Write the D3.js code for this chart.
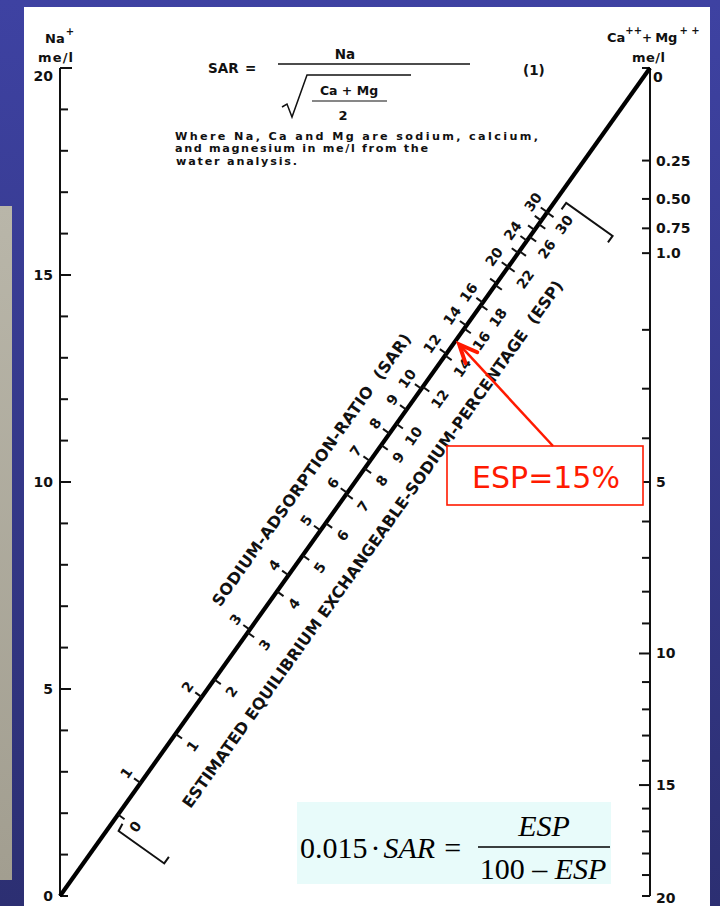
<!DOCTYPE html>
<html>
<head>
<meta charset="utf-8">
<script src="https://cdn.jsdelivr.net/npm/d3@7"></script>
<style>
  html, body { margin: 0; padding: 0; background: #34378a; }
  svg { display: block; }
</style>
</head>
<body>
<svg id="chart" width="720" height="906"></svg>
<script>
// ---- Scale values ----
// Left scale: sodium, me/l
const naTicks  = [0,1,2,3,4,5,6,7,8,9,10,11,12,13,14,15,16,17,18,19,20];
const naLabels = [0,5,10,15,20];
// Right scale: calcium + magnesium, me/l (square-root graduated)
const caMgTicks      = [0,0.25,0.5,0.75,1,2,3,4,5,6,7,8,9,10,11,12,13,14,15,16,17,18,19,20];
const caMgLabels     = [0,0.25,0.5,0.75,1,5,10,15,20];
const caMgLabelText  = ["0","0.25","0.50","0.75","1.0","5","10","15","20"];
const caMgLongTicks  = [5,10,15];
// Sodium-adsorption-ratio graduations on the diagonal
const sarLabels = [1,2,3,4,5,6,7,8,9,10,12,14,16,20,24,30];
const sarMinor  = [18,22,26,28];
// Exchangeable-sodium-percentage graduations and the SAR value each one sits at
const espLabels = [0,1,2,3,4,5,6,7,8,9,10,12,14,16,18,22,26,30];
const espMinor  = [20,24,28];
const espValues = [0,1,2,3,4,5,6,7,8,9,10,12,14,15,16,18,20,22,24,26,28,30];
const espAtSar  = [0.69,1.54,2.24,2.95,3.68,4.42,5.18,5.96,6.75,7.56,8.39,10.10,11.89,12.82,13.77,15.74,17.80,19.98,22.26,24.68,27.22,29.91];
const highlightEsp = 15;

// ---- Layout ----
const xL = 60, xR = 650, yTop = 68, yBot = 896;
const letter = "'DejaVu Sans', sans-serif";
const ink = "#111";
const red = "#ff1a00";

const na   = d3.scaleLinear().domain([0, 20]).range([yBot, yTop]);
const caMg = d3.scaleSqrt().domain([0, 20]).range([yTop, yBot]);
const espToSar = d3.scaleLinear().domain(espValues).range(espAtSar);

const svg = d3.select("#chart");
const defs = svg.append("defs");

// slide background
const bg = defs.append("linearGradient").attr("id", "bg")
  .attr("x1", 0).attr("y1", 0).attr("x2", 0).attr("y2", 1);
bg.append("stop").attr("offset", "0%").attr("stop-color", "#3e42a2");
bg.append("stop").attr("offset", "100%").attr("stop-color", "#2c2f72");
svg.append("rect").attr("width", 720).attr("height", 906).attr("fill", "url(#bg)");

const strip = defs.append("linearGradient").attr("id", "strip")
  .attr("x1", 0).attr("y1", 0).attr("x2", 0).attr("y2", 1);
strip.append("stop").attr("offset", "0%").attr("stop-color", "#b9b6a9");
strip.append("stop").attr("offset", "100%").attr("stop-color", "#a29e90");
svg.append("rect").attr("x", 0).attr("y", 206).attr("width", 12).attr("height", 674)
  .attr("fill", "url(#strip)");

// paper
svg.append("rect").attr("x", 24).attr("y", 7).attr("width", 686).attr("height", 899)
  .attr("fill", "#ffffff");

// ---- Left axis (Na) ----
const left = svg.append("g");
left.append("line").attr("x1", xL).attr("x2", xL).attr("y1", na(0)).attr("y2", na(20))
  .attr("stroke", ink).attr("stroke-width", 2);
left.selectAll("line.t").data(naTicks).join("line").attr("class", "t")
  .attr("x1", xL).attr("y1", d => na(d)).attr("y2", d => na(d))
  .attr("x2", d => xL + (d === 20 ? 12 : naLabels.includes(d) && d > 0 ? 11 : 8))
  .attr("stroke", ink).attr("stroke-width", 2);
left.selectAll("text").data(naLabels).join("text")
  .attr("x", xL - 7).attr("y", d => na(d) + (d === 20 ? 13 : 5))
  .attr("text-anchor", "end").attr("font-family", letter).attr("font-weight", "bold")
  .attr("font-size", 14).attr("fill", ink).text(d => d);

// ---- Right axis (Ca + Mg) ----
const right = svg.append("g");
right.append("line").attr("x1", xR).attr("x2", xR).attr("y1", caMg(0)).attr("y2", caMg(20))
  .attr("stroke", ink).attr("stroke-width", 2);
right.selectAll("line.t").data(caMgTicks).join("line").attr("class", "t")
  .attr("x1", xR).attr("y1", d => caMg(d)).attr("y2", d => caMg(d))
  .attr("x2", d => xR - (caMgLongTicks.includes(d) ? 11 : 8))
  .attr("stroke", ink).attr("stroke-width", 2);
right.selectAll("text").data(caMgLabels).join("text")
  .attr("x", (d, i) => xR + (i === 0 ? 3 : 6))
  .attr("y", d => caMg(d) + (d === 0 ? 14 : d === 20 ? 7 : 5))
  .attr("font-family", letter).attr("font-weight", "bold")
  .attr("font-size", 14).attr("fill", ink).text((d, i) => caMgLabelText[i]);

// ---- Axis titles ----
function lettering(x, y, size, anchor) {
  return svg.append("text").attr("x", x).attr("y", y)
    .attr("font-family", letter).attr("font-weight", "bold")
    .attr("font-size", size).attr("fill", ink).attr("text-anchor", anchor || "start");
}
const naTitle = lettering(45, 43, 13);
naTitle.append("tspan").text("Na");
naTitle.append("tspan").attr("dx", 1).attr("dy", -8).attr("font-size", 10).text("+");
lettering(38, 62, 13).attr("textLength", 35).text("me/l");

const cmTitle = lettering(607, 42, 13);
cmTitle.append("tspan").text("Ca");
cmTitle.append("tspan").attr("dy", -8).attr("font-size", 10).text("++");
cmTitle.append("tspan").attr("dy", 8).attr("font-size", 12).text("+");
cmTitle.append("tspan").attr("dx", 3).text("Mg");
cmTitle.append("tspan").attr("dx", 2).attr("dy", -8).attr("font-size", 10).text("+  +");
lettering(632, 62, 13).attr("textLength", 33).text("me/l");

// ---- Defining equation (1) ----
lettering(208, 73, 13.5).text("SAR");
lettering(245, 73, 13.5).text("=");
svg.append("line").attr("x1", 278).attr("x2", 470).attr("y1", 64).attr("y2", 64)
  .attr("stroke", ink).attr("stroke-width", 1.3);
lettering(345, 59, 13.5, "middle").text("Na");
svg.append("path").attr("d", "M282,107 L287,104 L292,117 L307,75 L411,75")
  .attr("fill", "none").attr("stroke", ink).attr("stroke-width", 1.5);
lettering(349, 95, 12.5, "middle").text("Ca + Mg");
svg.append("line").attr("x1", 312).attr("x2", 387).attr("y1", 101).attr("y2", 101)
  .attr("stroke", ink).attr("stroke-width", 1.2);
lettering(343, 120, 13, "middle").text("2");
lettering(523, 75, 13.5).text("(1)");

lettering(175, 139.5, 11.2).attr("textLength", 363).text("Where Na, Ca and Mg are sodium, calcium,");
lettering(175, 152, 11.2).attr("textLength", 253).text("and magnesium in me/l from the");
lettering(176, 164.5, 11.2).attr("textLength", 121).text("water analysis.");

// ---- Diagonal SAR / ESP scale ----
const D0 = [xL, na(0)], D1 = [xR, caMg(0)];
const ddx = D1[0] - D0[0], ddy = D1[1] - D0[1];
const len = Math.hypot(ddx, ddy);
const angle = Math.atan2(ddy, ddx) * 180 / Math.PI;
const tx = ddx / len, ty = ddy / len;   // along the diagonal
const nx = -ty, ny = tx;                // across it, towards the ESP side

// distance along the diagonal at which a Na / Ca+Mg alignment gives this SAR
function sarPos(sar) {
  if (sar <= 0) return 0;
  const naRef = 10;
  const c = 2 * Math.pow(naRef / sar, 2);
  const yL = na(naRef), yR = caMg(c);
  const s = (D0[1] - yL) / ((yR - yL) - (D1[1] - D0[1]));
  return s * len;
}
const espPos = esp => sarPos(espToSar(esp));

const diag = svg.append("g").attr("transform", `translate(${D0[0]},${D0[1]}) rotate(${angle})`);
diag.append("line").attr("x1", 0).attr("x2", len).attr("y1", 0).attr("y2", 0)
  .attr("stroke", "#000").attr("stroke-width", 4.2);

diag.selectAll("line.sar").data(sarLabels.concat(sarMinor)).join("line").attr("class", "sar")
  .attr("x1", d => sarPos(d)).attr("x2", d => sarPos(d)).attr("y1", -8).attr("y2", 0)
  .attr("stroke", ink).attr("stroke-width", 2);
diag.selectAll("text.sar").data(sarLabels).join("text").attr("class", "sar")
  .attr("x", d => sarPos(d)).attr("y", -12.5).attr("text-anchor", "middle")
  .attr("font-family", letter).attr("font-weight", "bold").attr("font-size", 14)
  .attr("fill", ink).text(d => d);

diag.selectAll("line.esp").data(espLabels.concat(espMinor)).join("line").attr("class", "esp")
  .attr("x1", d => espPos(d)).attr("x2", d => espPos(d)).attr("y1", 0).attr("y2", 8)
  .attr("stroke", ink).attr("stroke-width", 2);
diag.selectAll("text.esp").data(espLabels).join("text").attr("class", "esp")
  .attr("x", d => espPos(d)).attr("y", 26).attr("text-anchor", "middle")
  .attr("font-family", letter).attr("font-weight", "bold").attr("font-size", 14)
  .attr("fill", ink).text(d => d);

// brackets closing the ESP scale
const bLo = espPos(espLabels[0]) - 13, bHi = espPos(espLabels[espLabels.length - 1]) + 19;
diag.append("path").attr("d", `M${bLo + 8},9 L${bLo},10 L${bLo},66 L${bLo + 8},66`)
  .attr("fill", "none").attr("stroke", ink).attr("stroke-width", 2);
diag.append("path").attr("d", `M${bHi - 8},10 L${bHi},10 L${bHi},67 L${bHi - 8},67`)
  .attr("fill", "none").attr("stroke", ink).attr("stroke-width", 2);

// scale names
diag.append("text").attr("x", 493).attr("y", -37).attr("text-anchor", "middle")
  .attr("font-family", letter).attr("font-weight", "bold").attr("font-size", 16)
  .attr("fill", ink).attr("textLength", 330).attr("xml:space", "preserve")
  .text("SODIUM-ADSORPTION-RATIO  (SAR)");
diag.append("text").attr("x", 468).attr("y", 56).attr("text-anchor", "middle")
  .attr("font-family", letter).attr("font-weight", "bold").attr("font-size", 16)
  .attr("fill", ink).attr("textLength", 643).attr("xml:space", "preserve")
  .text("ESTIMATED EQUILIBRIUM EXCHANGEABLE-SODIUM-PERCENTAGE  (ESP)");

// ---- ESP = 15 % call-out ----
const box = { x: 447, y: 446, w: 196, h: 59 };
svg.append("rect").attr("x", box.x).attr("y", box.y).attr("width", box.w).attr("height", box.h)
  .attr("fill", "#fff").attr("stroke", red).attr("stroke-width", 1.6);
svg.append("text").attr("x", box.x + box.w / 2 + 1).attr("y", box.y + 42)
  .attr("text-anchor", "middle").attr("font-family", letter).attr("font-size", 30)
  .attr("fill", red).text(`ESP=${highlightEsp}%`);

const uTip = espPos(highlightEsp), vTip = 5;
const tip = [D0[0] + uTip * tx + vTip * nx, D0[1] + uTip * ty + vTip * ny];
const start = [box.x + 106, box.y];
const ax = tip[0] - start[0], ay = tip[1] - start[1], al = Math.hypot(ax, ay);
const ux = ax / al, uy = ay / al;
svg.append("line").attr("x1", start[0]).attr("y1", start[1])
  .attr("x2", tip[0] - ux * 3).attr("y2", tip[1] - uy * 3)
  .attr("stroke", red).attr("stroke-width", 2.5);
const headL = 18, headW = 8;
const arm1 = [tip[0] - ux * headL - uy * headW, tip[1] - uy * headL + ux * headW];
const arm2 = [tip[0] - ux * headL + uy * headW, tip[1] - uy * headL - ux * headW];
svg.append("path").attr("d", `M${arm1} L${tip} L${arm2}`)
  .attr("fill", "none").attr("stroke", red).attr("stroke-width", 4)
  .attr("stroke-linejoin", "miter").attr("stroke-linecap", "round");

// ---- ESP relation ----
const serif = "'Liberation Serif', 'Times New Roman', serif";
svg.append("rect").attr("x", 297).attr("y", 802).attr("width", 314).attr("height", 82)
  .attr("fill", "#e8fbfa");
const lhs = svg.append("text").attr("x", 300).attr("y", 858)
  .attr("font-family", serif).attr("font-size", 30).attr("fill", "#000");
lhs.append("tspan").text("0.015");
lhs.append("tspan").attr("dx", 3).text("·");
lhs.append("tspan").attr("dx", 3).attr("font-style", "italic").text("SAR");
lhs.append("tspan").attr("dx", 9).text("=");
svg.append("line").attr("x1", 478).attr("x2", 610).attr("y1", 847).attr("y2", 847)
  .attr("stroke", "#000").attr("stroke-width", 1.4);
svg.append("text").attr("x", 544).attr("y", 836).attr("text-anchor", "middle")
  .attr("font-family", serif).attr("font-size", 30).attr("font-style", "italic")
  .attr("fill", "#000").text("ESP");
const den = svg.append("text").attr("x", 543).attr("y", 879).attr("text-anchor", "middle")
  .attr("font-family", serif).attr("font-size", 30).attr("fill", "#000");
den.append("tspan").text("100 – ");
den.append("tspan").attr("font-style", "italic").text("ESP");
</script>
</body>
</html>
